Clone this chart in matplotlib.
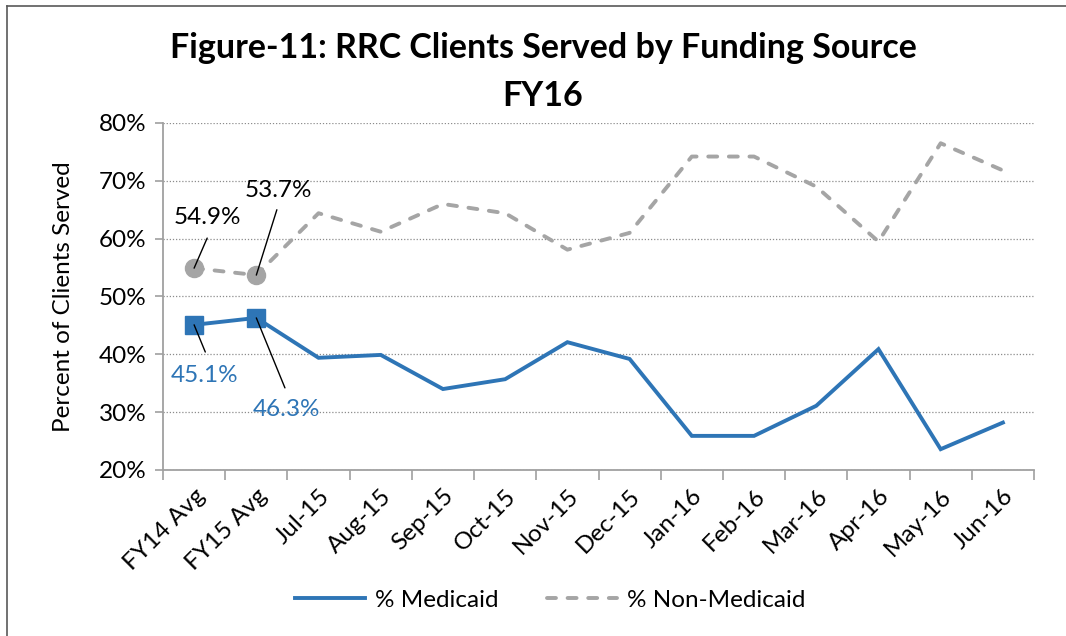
import matplotlib
matplotlib.use("Agg")
import matplotlib.pyplot as plt
from matplotlib.lines import Line2D
from matplotlib.ticker import FixedLocator, PercentFormatter

plt.rcParams["font.family"] = ["Lato", "DejaVu Sans"]

categories = ["FY14 Avg", "FY15 Avg", "Jul-15", "Aug-15", "Sep-15", "Oct-15", "Nov-15",
              "Dec-15", "Jan-16", "Feb-16", "Mar-16", "Apr-16", "May-16", "Jun-16"]
medicaid = [45.1, 46.3, 39.4, 39.9, 34.0, 35.7, 42.1, 39.2, 25.9, 25.9, 31.1, 40.9, 23.6, 28.2]
non_medicaid = [54.9, 53.7, 64.4, 61.2, 66.0, 64.4, 58.1, 61.0, 74.2, 74.2, 69.0, 59.5, 76.5, 71.8]
y_ticks = [20, 30, 40, 50, 60, 70, 80]

BLUE = "#2E75B6"
GRAY = "#A5A5A5"
AXIS = "#A0A0A0"
FS = 17.5

fig = plt.figure(figsize=(10.66, 6.36), dpi=100)
ax = fig.add_axes([163 / 1066, 1 - 470 / 636, (1034 - 163) / 1066, (470 - 123) / 636])
x = list(range(len(categories)))

ax.plot(x, medicaid, color=BLUE, lw=2.8, solid_joinstyle="miter", zorder=3)
ax.plot(x, non_medicaid, color=GRAY, lw=2.8, dashes=(2.3, 3.0),
        dash_capstyle="round", zorder=3)
# markers only on the two yearly averages
ax.plot(x[:2], medicaid[:2], ls="none", marker="s", ms=13.5, color=BLUE, zorder=4)
ax.plot(x[:2], non_medicaid[:2], ls="none", marker="o", ms=13, color=GRAY, zorder=4)

# data labels with leader lines
labels = [
    (0, non_medicaid[0], (0.21, 60.1), (0.21, 63.6), "black"),
    (1, non_medicaid[1], (1.33, 65.0), (1.36, 68.4), "black"),
    (0, medicaid[0], (0.18, 40.4), (0.16, 36.4), BLUE),
    (1, medicaid[1], (1.46, 34.2), (1.48, 30.4), BLUE),
]
for xi, val, line_end, text_pos, col in labels:
    ax.annotate("", xy=(xi, val), xytext=line_end,
                arrowprops=dict(arrowstyle="-", lw=1, color="black", shrinkA=0, shrinkB=0),
                zorder=5)
    ax.text(text_pos[0], text_pos[1], f"{val:.1f}%", color=col, fontsize=FS,
            ha="center", va="center", zorder=5)

ax.set_xlim(-0.5, len(categories) - 0.5)
ax.set_ylim(20, 80)
ax.yaxis.set_major_locator(FixedLocator(y_ticks))
ax.yaxis.set_major_formatter(PercentFormatter(decimals=0))
ax.grid(axis="y", color="#8C8C8C", ls=(0, (1, 1.5)), lw=0.9)
ax.set_axisbelow(True)

ax.set_xticks(x)
ax.set_xticklabels(categories, rotation=45, ha="right", rotation_mode="anchor", fontsize=FS)
ax.set_xticks([i - 0.5 for i in range(len(categories) + 1)], minor=True)
ax.tick_params(axis="x", which="major", length=0, pad=11)
ax.tick_params(axis="x", which="minor", length=7, color=AXIS, width=1.2, direction="out")
ax.tick_params(axis="y", length=6, color=AXIS, width=1.2, labelsize=FS, pad=6)

for side in ("top", "right"):
    ax.spines[side].set_visible(False)
for side in ("left", "bottom"):
    ax.spines[side].set_color(AXIS)
    ax.spines[side].set_linewidth(1.3)

ax.set_ylabel("Percent of Clients Served", fontsize=FS, labelpad=18)

fig.text(543 / 1066, 1 - 72 / 636, "Figure-11: RRC Clients Served by Funding Source\nFY16",
         ha="center", va="center", fontsize=24.5, fontweight="bold", linespacing=1.6)

handles = [Line2D([], [], color=BLUE, lw=2.8),
           Line2D([], [], color=GRAY, lw=2.8, dashes=(2.3, 3.0), dash_capstyle="round")]
fig.legend(handles, ["% Medicaid", "% Non-Medicaid"], loc="center",
           bbox_to_anchor=(550 / 1066, 1 - 600 / 636), ncol=2, frameon=False,
           fontsize=FS, handlelength=2.9, columnspacing=2.0, handletextpad=0.4)

# chart frame: only the left and top edges show in the crop
fig.add_artist(Line2D([7 / 1066, 7 / 1066], [0, 1 - 6 / 636], transform=fig.transFigure,
                      color="#595959", lw=1.2))
fig.add_artist(Line2D([7 / 1066, 1], [1 - 6 / 636, 1 - 6 / 636], transform=fig.transFigure,
                      color="#595959", lw=1.2))

fig.savefig("out.png", dpi=100)
plt.close(fig)
